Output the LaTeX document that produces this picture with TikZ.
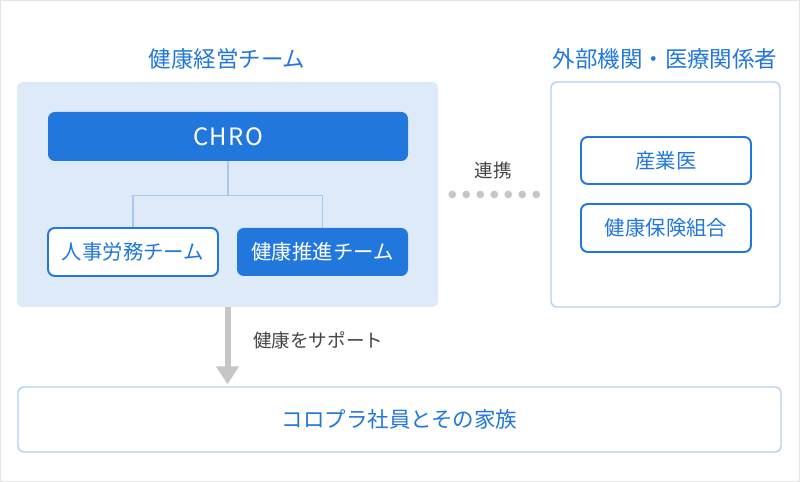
\documentclass[tikz,border=0pt]{standalone}
\usepackage{fontspec}
\setmainfont{Noto Sans CJK JP}
\usepackage{xcolor}
\usepackage{tikz}
\usetikzlibrary{arrows.meta}
\definecolor{KPBlue}{HTML}{2277DC}
\definecolor{KPPale}{HTML}{DFEAF9}
\definecolor{KPEdge}{HTML}{B5CFF2}
\definecolor{KPLine}{HTML}{A9C8EE}
\definecolor{KPGray}{HTML}{C6C6C6}
\definecolor{KPText}{HTML}{444444}
\definecolor{KPFrame}{HTML}{E4E4E4}

\begin{document}
\begin{tikzpicture}[x=1cm,y=1cm,
  groupbox/.style={rounded corners=0.15cm,inner sep=0pt},
  solidbox/.style={fill=KPBlue,rounded corners=0.17cm,inner sep=0pt,text=white,
    font=\fontsize{14.5}{16}\selectfont},
  linebox/.style={draw=KPBlue,line width=1.4pt,fill=white,rounded corners=0.17cm,
    inner sep=0pt,text=KPBlue,font=\fontsize{14.5}{16}\selectfont},
  heading/.style={text=KPBlue,inner sep=0pt,font=\fontsize{16}{18}\selectfont},
  remark/.style={text=KPText,inner sep=0pt,font=\fontsize{13.2}{15}\selectfont},
  branch/.style={draw=KPLine,line width=1pt},
  linkdots/.style={draw=KPGray,line width=5.5pt,line cap=round,dash pattern=on 0pt off 0.35cm},
  support/.style={draw=KPGray,line width=0.15cm,-{Triangle[width=0.55cm,length=0.45cm]}}]
\path[use as bounding box] (0,0) rectangle (20,12.05);
\draw[KPFrame,line width=0.6pt] (0.0125,0.0125) rectangle (19.9875,12.0375);

% health management team
\node[groupbox,fill=KPPale,minimum width=10.525cm,minimum height=5.625cm] (team) at (5.6875,7.1875) {};
\node[heading] (teamtitle) at (5.675,10.575) {健康経営チーム};
\node[solidbox,minimum width=9cm,minimum height=1.225cm] (chro) at (5.7,8.6375)
  {\fontsize{17}{19}\selectfont\addfontfeature{LetterSpace=6}CHRO};
\node[linebox,minimum width=4.25cm,minimum height=1.2cm] (jinji) at (3.325,5.75) {人事労務チーム};
\node[solidbox,minimum width=4.275cm,minimum height=1.2cm] (suishin) at (8.0625,5.75) {健康推進チーム};
\draw[branch] (chro.south) -- ++(0,-0.85) coordinate (fork);
\draw[branch] (fork) -| (jinji.north);
\draw[branch] (fork) -| (suishin.north);

% outside partners
\node[groupbox,draw=KPEdge,line width=1pt,fill=white,minimum width=5.725cm,minimum height=5.625cm] (ext) at (16.6375,7.1875) {};
\node[heading] (exttitle) at (16.625,10.575) {外部機関・医療関係者};
\node[linebox,minimum width=4.25cm,minimum height=1.175cm] (sangyoi) at (16.65,8.0375) {産業医};
\node[linebox,minimum width=4.25cm,minimum height=1.2cm] (kenpo) at (16.65,6.35) {健康保険組合};

% link
\node[remark] (renkei) at (12.325,7.8) {連携};
\draw[linkdots] ([xshift=0.35cm]team.east) -- ([xshift=-0.33cm]ext.west);

% employees
\node[groupbox,draw=KPEdge,line width=1pt,fill=white,minimum width=19.075cm,minimum height=1.625cm,
  text=KPBlue,font=\fontsize{15.3}{17}\selectfont] (family) at (9.9875,1.5625) {コロプラ社員とその家族};
\draw[support] (team.south) -- ([yshift=0.05cm]team.south |- family.north);
\node[remark,anchor=west] (supportlabel) at (6.325,3.55) {健康をサポート};
\end{tikzpicture}
\end{document}
